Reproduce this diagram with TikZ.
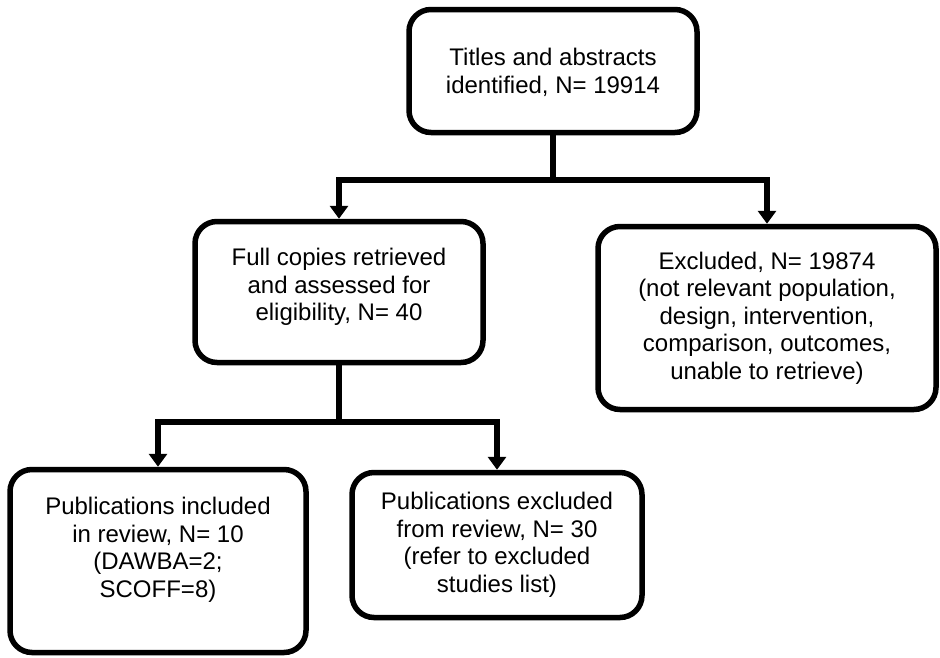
\documentclass[tikz,border=0pt]{standalone}
\usepackage{fontspec}
\setmainfont{Liberation Sans}
\usetikzlibrary{arrows.meta}

\tikzstyle{flowbox} = [draw=black, fill=white, line width=5.5pt,
    rectangle, rounded corners=22pt, align=center, inner sep=6pt,
    font=\fontsize{24}{27.5}\selectfont]
\tikzstyle{flowline} = [draw=black, line width=5.5pt]
\tikzstyle{flowarrow} = [flowline, -{Triangle[length=13pt,width=18pt]}]

\begin{document}
\begin{tikzpicture}[x=1pt, y=-1pt]
    \useasboundingbox (0,0) rectangle (940,657);
%------------ Boxes ---------------------
    \node [flowbox, minimum width=288pt, minimum height=123pt] (titles) at (553,71)
        {\mbox{}\\[-7pt]Titles and abstracts\\identified, N= 19914};
    \node [flowbox, minimum width=288pt, minimum height=141pt] (full) at (339,292)
        {Full copies retrieved\\and assessed for\\eligibility, N= 40\\[-13pt]\mbox{}};
    \node [flowbox, minimum width=338pt, minimum height=183pt] (excluded) at (767,318)
        {Excluded, N= 19874\\(not relevant population,\\design, intervention,\\comparison, outcomes,\\unable to retrieve)};
    \node [flowbox, minimum width=296pt, minimum height=183pt] (included) at (158,561)
        {Publications included\\in review, N= 10\\(DAWBA=2;\\SCOFF=8)\\\mbox{}};
    \node [flowbox, minimum width=290pt, minimum height=145pt] (pubexcl) at (497,545)
        {Publications excluded\\from review, N= 30\\(refer to excluded\\studies list)};
%------------ Connectors ---------------------
    \coordinate (split1) at (titles.south |- 0,180);
    \coordinate (split2) at (full.south |- 0,422);
    \draw [flowline] (titles.south) -- (split1);
    \draw [flowarrow] (split1) -| (full.north);
    \draw [flowarrow] (split1) -| (excluded.north);
    \draw [flowline] (full.south) -- (split2);
    \draw [flowarrow] (split2) -| (included.north);
    \draw [flowarrow] (split2) -| (pubexcl.north);
\end{tikzpicture}
\end{document}
